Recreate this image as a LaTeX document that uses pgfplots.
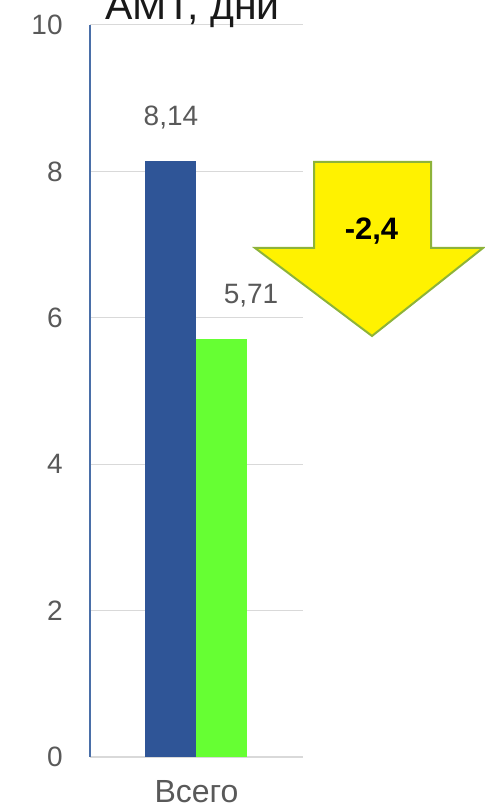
\documentclass[border=0pt]{standalone}
\usepackage{fontspec}
\setmainfont{Liberation Sans}
\usepackage{pgfplots}
\pgfplotsset{compat=1.18}

\definecolor{barblue}{HTML}{2F5597}
\definecolor{bargreen}{HTML}{66FF33}
\definecolor{gridgray}{HTML}{D9D9D9}
\definecolor{ticktext}{HTML}{595959}
\definecolor{axisblue}{HTML}{4A6FA8}
\definecolor{arrowline}{HTML}{8DB33A}

\begin{document}
\begin{tikzpicture}
\useasboundingbox (0,0) rectangle (242.5pt,404pt);
\begin{axis}[
  at={(45pt,25.5pt)}, anchor=south west,
  scale only axis, width=106.5pt, height=366pt,
  xmin=-1, xmax=1, ymin=0, ymax=10,
  enlargelimits=false, clip=false,
  ybar, bar width=25.5pt, ybar=0pt,
  xtick={0}, xticklabels={Всего},
  ytick={0,2,...,10},
  ymajorgrids, grid style={gridgray, line width=0.5pt},
  axis lines=left, axis line style={-},
  x axis line style={gridgray, line width=0.6pt},
  y axis line style={axisblue, line width=0.6pt},
  major tick length=0pt,
  /pgf/number format/assume math mode=true,
  tick label style={font=\fontsize{14}{16}\selectfont, text=ticktext},
  xticklabel style={font=\fontsize{16}{18}\selectfont, anchor=base, yshift=-23pt},
  yticklabel style={anchor=east, inner sep=0pt, xshift=-13.5pt},
  nodes near coords, point meta=explicit symbolic,
  every node near coord/.append style={anchor=base, yshift=18pt,
    font=\fontsize{14}{16}\selectfont, text=ticktext},
]
\addplot[fill=barblue, draw=none] coordinates {(0,8.14) [8,14]};
\addplot[fill=bargreen, draw=none,
  every node near coord/.append style={xshift=14.5pt}] coordinates {(0,5.71) [5,71]};
\end{axis}
% title sits partly above the page edge, as in the reference
\node[anchor=base, font=\fontsize{20.5}{24}\selectfont, text=black!90] at (96.25pt,394pt) {АМТ, дни};
\begin{scope}[x=0.5pt, y=-0.5pt, shift={(0pt,404pt)}]
\draw[arrowline, line width=1pt, fill=yellow, line join=miter]
  (314,162) -- (431,162) -- (431,248) -- (483,248) -- (372,336) -- (255,248) -- (314,248) -- cycle;
\node[anchor=base, font=\bfseries\fontsize{15.5}{18}\selectfont] at (371.5,240) {-2,4};
\end{scope}
\end{tikzpicture}
\end{document}
